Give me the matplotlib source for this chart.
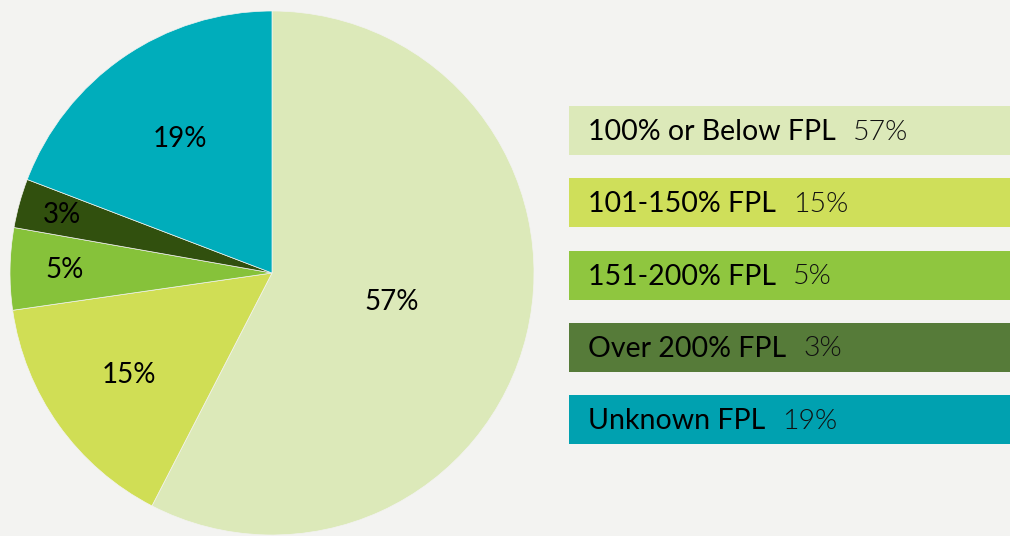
import matplotlib
matplotlib.use("Agg")
import matplotlib.pyplot as plt
import numpy as np
from matplotlib.patches import Rectangle

# FPL distribution
categories = ['100% or Below FPL', '101-150% FPL', '151-200% FPL', 'Over 200% FPL', 'Unknown FPL']
values = [57, 15, 5, 3, 19]
pct_labels = ['57%', '15%', '5%', '3%', '19%']

pie_colors = ['#dce9b9', '#d0de55', '#86c23a', '#31500e', '#00adbb']
box_colors = ['#dce9b9', '#cfdf5a', '#8fc63f', '#567b39', '#00a1b0']
label_r = [0.47, 0.67, 0.79, 0.83, 0.62]

BG = '#f3f3f1'
W, H = 1010, 536

plt.rcParams['font.family'] = ['Lato', 'DejaVu Sans']

fig = plt.figure(figsize=(W / 100, H / 100), dpi=100, facecolor=BG)
ax = fig.add_axes([0, 0, 1, 1])
ax.set_facecolor(BG)

cx, cy, r = 272, H - 273, 262
wedges, _ = ax.pie(values, colors=pie_colors, startangle=90, counterclock=False,
                   center=(cx, cy), radius=r,
                   wedgeprops=dict(linewidth=0.5, edgecolor='#f3f3f1'))

ax.set_xlim(0, W)
ax.set_ylim(0, H)
ax.set_aspect('equal')
ax.axis('off')

# labels inside the wedges
total = sum(values)
start = 90.0
for v, lab, d in zip(values, pct_labels, label_r):
    mid = np.deg2rad(start - v / total * 360 / 2)
    start -= v / total * 360
    ax.text(cx + d * r * np.cos(mid), cy + d * r * np.sin(mid), lab,
            ha='center', va='center', fontsize=20, color='black')

# legend boxes
renderer = fig.canvas.get_renderer()
for i, (cat, pct, col) in enumerate(zip(categories, pct_labels, box_colors)):
    top = 106 + i * 72.3
    ax.add_patch(Rectangle((569, H - top - 49), 460, 49, facecolor=col,
                           edgecolor='none', clip_on=True))
    t = ax.text(588, H - top - 26, cat, ha='left', va='center', fontsize=20.5, color='black')
    bb = t.get_window_extent(renderer=renderer)
    ax.text(bb.x1 + 17, H - top - 26, pct, ha='left', va='center', fontsize=20.5,
            color='#111111', fontweight=300)

fig.savefig('out.png', dpi=100, facecolor=BG)
